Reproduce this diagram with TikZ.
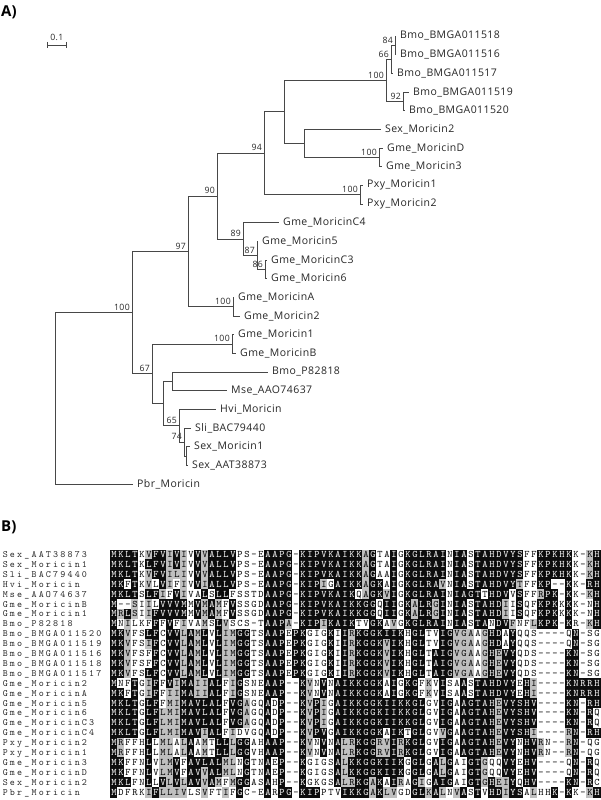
\documentclass[tikz,border=0pt]{standalone}
\usepackage{fontspec}
\setmainfont{Open Sans}
\newfontfamily\trf{Open Sans}[LetterSpace=4]
\usepackage{tikz}
\usetikzlibrary{positioning,calc}

\newcount\rowno
\newcount\colno
\let\endseq\relax
% column consensus, . = no shading
\def\consensus{MKLT.LFVVVMAVLALLVGG..AAPGPKIPVKAIKKGGKIIKKGLRAIGIAGTAHDVYSHVKPKHKNRRH}
\def\setgrp#1#2{\expandafter\def\csname g:#1\endcsname{#2}}
\setgrp{A}{1}\setgrp{G}{1}
\setgrp{I}{2}\setgrp{L}{2}\setgrp{V}{2}\setgrp{M}{2}
\setgrp{F}{3}\setgrp{Y}{3}\setgrp{W}{3}
\setgrp{K}{4}\setgrp{R}{4}
\setgrp{D}{5}\setgrp{E}{5}
\setgrp{N}{6}\setgrp{Q}{6}
\setgrp{S}{7}\setgrp{T}{7}
\setgrp{H}{8}\setgrp{P}{9}\setgrp{C}{10}
\setgrp{-}{11}\setgrp{.}{12}

\def\rescell#1#2{%
  \def\bg{white}\def\fg{black}%
  \if#1#2\def\bg{black!95}\def\fg{white}%
  \else\expandafter\ifx\csname g:#1\expandafter\endcsname\csname g:#2\endcsname
    \def\bg{black!25}\fi\fi
  \node[res,fill=\bg,draw=\bg,text=\fg] (r\the\rowno c\the\colno)
    at ({114+7*\the\colno},\ry) {#1};}
\def\seqwalk#1#2\endseq#3#4\endseq{%
  \rescell{#1}{#3}\global\advance\colno by 1
  \ifx\endseq#2\endseq\else\seqwalk#2\endseq#4\endseq\fi}
\def\namewalk#1#2\endseq{%
  \node[nmch] (n\the\rowno c\the\colno) at ({5.3+7.2*\the\colno},\ry) {#1};%
  \global\advance\colno by 1
  \ifx\endseq#2\endseq\else\namewalk#2\endseq\fi}
\def\alnrow#1#2{%
  \global\advance\rowno by 1
  \pgfmathsetmacro\ry{554.5+9.9*(\the\rowno-1)}%
  \global\colno=0 \namewalk#1\endseq
  \global\colno=0
  \edef\tmp{\noexpand\seqwalk#2\noexpand\endseq\consensus\noexpand\endseq}\tmp}

\begin{document}
\begin{tikzpicture}[x=1pt,y=-1pt,
  br/.style={draw=black!72,line width=0.8pt},
  leaf/.style={anchor=west,inner xsep=4pt,inner ysep=0pt,text=black!85,font=\trf\fontsize{10.5}{12}\selectfont},
  bs/.style={inner sep=2pt,text=black!85,font=\trf\fontsize{8.7}{10}\selectfont},
  panel/.style={anchor=base west,inner sep=0pt,font=\fontsize{15}{15}\selectfont\bfseries},
  res/.style={minimum width=7pt,minimum height=9.9pt,inner sep=0pt,line width=0.1pt,
    text height=6pt,text depth=0pt,font=\ttfamily\fontsize{10}{10}\selectfont},
  nmch/.style={inner sep=0pt,text height=6pt,text depth=0pt,text=black!85,
    font=\ttfamily\fontsize{9.6}{10}\selectfont}]
\useasboundingbox (0,0) rectangle (600,800);

\node[panel] (pa) at (1,17) {A)};
\node[panel] (pb) at (1,531) {B)};

% scale bar
\coordinate (sb1) at (47.5,45);
\coordinate (sb2) at (66,45);
\draw[br] (sb1) -- (sb2);
\draw[br] ([yshift=3pt]sb1) -- ([yshift=-3pt]sb1);
\draw[br] ([yshift=3pt]sb2) -- ([yshift=-3pt]sb2);
\node[bs,above=2pt] (sbl) at ($(sb1)!0.5!(sb2)$) {0.1};

% leaves
\node[leaf] (b518) at (396,36) {Bmo\_BMGA011518};
\node[leaf] (b516) at (396,54.67) {Bmo\_BMGA011516};
\node[leaf] (b517) at (393,73.33) {Bmo\_BMGA011517};
\node[leaf] (b519) at (409,92) {Bmo\_BMGA011519};
\node[leaf] (b520) at (405,110.67) {Bmo\_BMGA011520};
\node[leaf] (sex2) at (381,129.33) {Sex\_Moricin2};
\node[leaf] (gmeD) at (383,148) {Gme\_MoricinD};
\node[leaf] (gme3) at (382,166.67) {Gme\_Moricin3};
\node[leaf] (pxy1) at (363,185.33) {Pxy\_Moricin1};
\node[leaf] (pxy2) at (363,204) {Pxy\_Moricin2};
\node[leaf] (gmeC4) at (279,222.67) {Gme\_MoricinC4};
\node[leaf] (gme5) at (258,241.33) {Gme\_Moricin5};
\node[leaf] (gmeC3) at (267,260) {Gme\_MoricinC3};
\node[leaf] (gme6) at (267,278.67) {Gme\_Moricin6};
\node[leaf] (gmeA) at (234,297.33) {Gme\_MoricinA};
\node[leaf] (gme2) at (240,316) {Gme\_Moricin2};
\node[leaf] (gme1) at (234,334.67) {Gme\_Moricin1};
\node[leaf] (gmeB) at (236,353.33) {Gme\_MoricinB};
\node[leaf] (bmoP) at (268,372) {Bmo\_P82818};
\node[leaf] (mse) at (227,390.67) {Mse\_AAO74637};
\node[leaf] (hvi) at (216,409.33) {Hvi\_Moricin};
\node[leaf] (sli) at (191,428) {Sli\_BAC79440};
\node[leaf] (sex1) at (190,446.67) {Sex\_Moricin1};
\node[leaf] (sexAAT) at (188,465.33) {Sex\_AAT38873};
\node[leaf] (pbr) at (133,484) {Pbr\_Moricin};

% inner nodes with bootstrap values
\coordinate[label={[bs]above left:84}] (n84) at (395,45.3);
\coordinate[label={[bs]above left:66}] (n66) at (391,59.3);
\coordinate[label={[bs]above left:92}] (n92) at (403,101.3);
\coordinate[label={[bs]above left:100}] (nBmo) at (386,80.3);
\coordinate[label={[bs]above left:100}] (nD3) at (379,157.3);
\coordinate (nSex2) at (304,143.3);
\coordinate (nX) at (284,111.8);
\coordinate[label={[bs]above left:100}] (nPxy) at (360,194.7);
\coordinate[label={[bs]above left:94}] (n94) at (264,153.2);
\coordinate[label={[bs]above left:86}] (n86) at (265,269.3);
\coordinate[label={[bs]above left:87}] (n87) at (257,255.3);
\coordinate[label={[bs]above left:89}] (n89) at (243,239);
\coordinate[label={[bs]above left:90}] (n90) at (217,196.1);
\coordinate[label={[bs]above left:100}] (nA2) at (233,306.7);
\coordinate[label={[bs]above left:97}] (n97) at (188,251.4);
\coordinate[label={[bs]above left:100}] (n1B) at (232,344);
\coordinate (nBM) at (172,381.3);
\coordinate (nSS) at (186,456);
\coordinate[label={[bs]above left:74}] (n74) at (184,442);
\coordinate[label={[bs]above left:65}] (n65) at (179,425.7);
\coordinate (nBH) at (163,403.5);
\coordinate[label={[bs]above left:67}] (n67) at (152,373.8);
\coordinate[label={[bs]above left:100}] (nR100) at (132,312.6);
\coordinate (nRoot) at (55,398.3);

\foreach \p/\c in {n84/b518,n84/b516,n66/n84,n66/b517,n92/b519,n92/b520,
  nBmo/n66,nBmo/n92,nD3/gmeD,nD3/gme3,nSex2/sex2,nSex2/nD3,nX/nBmo,nX/nSex2,
  nPxy/pxy1,nPxy/pxy2,n94/nX,n94/nPxy,n86/gmeC3,n86/gme6,n87/gme5,n87/n86,
  n89/gmeC4,n89/n87,n90/n94,n90/n89,nA2/gmeA,nA2/gme2,n97/n90,n97/nA2,
  n1B/gme1,n1B/gmeB,nBM/bmoP,nBM/mse,nSS/sex1,nSS/sexAAT,n74/sli,n74/nSS,
  n65/hvi,n65/n74,nBH/nBM,nBH/n65,n67/n1B,n67/nBH,nR100/n97,nR100/n67,
  nRoot/nR100,nRoot/pbr}
  \draw[br] (\p) |- (\c);

% alignment B
\alnrow{Sex\_AAT38873}{MKLTKVFVIVIVVVALLVPS-EAAPG-KIPVKAIKKAGTAIGKGLRAINIASTAHDVYSFFKPKHKK-KH}
\alnrow{Sex\_Moricin1}{MKLTKLFVIVIVVVALLVPS-EAAPG-KIPVKAIKKAGTAIGKGLRAINIASTAHDVYSFFKPKHKK-KH}
\alnrow{Sli\_BAC79440}{MKLTKVFVILIVVVALLVPS-EAAPG-KIPVKAIKKAGAAIGKGLRAINIASTAHDVYSFFKPKHKK-KH}
\alnrow{Hvi\_Moricin}{MKFTKVLVIFIVVIALLVPS-EAAPG-KIPIGAIKKAGKAIGKGLRAVNIASTAHDVYTFFKP--KK-RH}
\alnrow{Mse\_AAO74637}{MKLTSLFIFVIVALSLLFSSTDAAPG-KIPVKAIKQAGKVIGKGLRAINIAGTTHDVVSFFRPK-KK-KH}
\alnrow{Gme\_MoricinB}{M--SIILVVVMMVMAMFVSSGDAAPG-KIPVKAIKKGGQIIGKALRGINIASTAHDIISQFKPKKKK-NH}
\alnrow{Gme\_Moricin1}{MRLSIIFVVVMMVMAMFVSSGDAAPG-KIPVKAIKKGGQIIGKALRGINIASTAHDIISQFKPKKKK-NH}
\alnrow{Bmo\_P82818}{MNILKFFFVFIVAMSLVSCS-TAAPA-KIPIKAIKTVGKAVGKGLRAINIASTANDVFNFLKPK-KR-KH}
\alnrow{Bmo\_BMGA011520}{MKVFSLFCVVLAMLVLIMGGTSAAPEPKGIGKIIRKGGKIIKHGLTVIGVGAAGHDAYQQS----QN-SG}
\alnrow{Bmo\_BMGA011519}{MKVFSIFCVVLAMLVLIMGGTSAAPEPKGIGKIIRKGGKVIKHGLTVIGVGAAGHDAYQQS----QN-SG}
\alnrow{Bmo\_BMGA011516}{MKVFSFFCVVLAMLVLIMGGTSAAPEPKGIGKIIRKGGKVIKHGLTAIGVGAAGHEVYQDS----KN-SG}
\alnrow{Bmo\_BMGA011518}{MKVFSFFCVVLAMLVLIMGGTSAAPEPKGIGKIIRKGGKVIKHGLTAIGVGAAGHEVYQDS----KN-SG}
\alnrow{Bmo\_BMGA011517}{MKVFSLFCVVLAMLVLIMGGTSAAPEPKGIGKIIRKGGKVIKHGLTAIGVGAAGHEVYQDS----KN-SG}
\alnrow{Gme\_Moricin2}{MNFTGIFFVIMAIIALFIGSNEAAP--KVNVNAIKKGGKAIGKGFKVISAASTAHDVYEHI----KNRRH}
\alnrow{Gme\_MoricinA}{MKFTGIFFIIMAIIALFIGSNEAAP--KVNVNAIKKGGKAIGKGFKVISAASTAHDVYEHI----KNRRH}
\alnrow{Gme\_Moricin5}{MKLTGLFFMIMAVLALFVGAGQADP--KVPIGAIKKGGKIIKKGLGVIGAAGTAHEVYSHV----KN-RH}
\alnrow{Gme\_Moricin6}{MKLTGLFLMIMAVLALFVGAGQADP--KVPIGAIKKGGKIIKKGLGVIGAAGTAHEVYSHV----KN-RQ}
\alnrow{Gme\_MoricinC3}{MKLTGLFLMIMAVLALFVGAGQADP--KVPIGAIKKGGKIIKKGLGVIGAAGTAHEVYSHV----KN-RQ}
\alnrow{Gme\_MoricinC4}{MKLTGLFLMIMAVIALFIDVGQADP--KVPVGAIKKGGKAIKTGLGVVGAAGTAHEVYSHI----RN-RH}
\alnrow{Pxy\_Moricin2}{MRFFHLLMLALAAMTLLLGGAHAAP--KVNVNALRKGGRVIRKGLGVIGAAGTAHEVYNHVRN--RN-QG}
\alnrow{Pxy\_Moricin1}{MRFFHLLMLALAAMTLLLGGVHAAP--KVNVNALRKGGRVIRKGLGVIGAAGTAHEVYNHVRN--RN-QG}
\alnrow{Gme\_Moricin3}{MKFFNLVLMVFAVLALMLNGTNAEP--KGIGSALKKGGKIIKGGLGALGAIGTGQQVYEHV----QN-RQ}
\alnrow{Gme\_MoricinD}{MKFFNLVLMVFAVVALMLNGTNAEP--KGIGSALKKGGKIIKGGLGALGAIGTGQQVYEHV----QN-RQ}
\alnrow{Sex\_Moricin2}{MKLFNLLVLVLAVVAMFMGGASAHP--KGKGSALRKGAKAIRAGIGAIGAIGTGHEIYQHV----KN-RC}
\alnrow{Pbr\_Moricin}{MDFRKIFLLIVLSVFTIFGC-EARPG-KIPPTVIKKGAKLVGDGLKALNVASTVHDIYSALHHK-KK-KH}
\end{tikzpicture}
\end{document}
